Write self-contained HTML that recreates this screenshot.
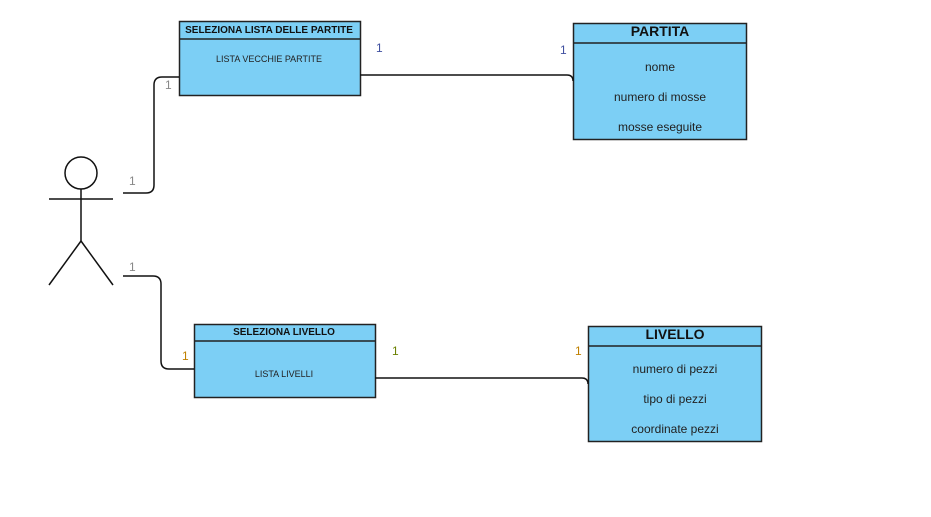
<!DOCTYPE html>
<html><head><meta charset="utf-8"><style>
html,body{margin:0;padding:0;background:#fff;}
svg{display:block;font-family:"Liberation Sans",sans-serif;}
</style></head><body>
<svg width="931" height="517" viewBox="0 0 931 517" xmlns="http://www.w3.org/2000/svg">
<g fill="#7ccff5" stroke="#222" stroke-width="1.5">
<rect x="179.5" y="21.5" width="181" height="74"/>
<line x1="179.5" y1="39" x2="360.5" y2="39"/>
<rect x="573.5" y="23.5" width="173" height="116"/>
<line x1="573.5" y1="43" x2="746.5" y2="43"/>
<rect x="194.5" y="324.5" width="181" height="73"/>
<line x1="194.5" y1="341" x2="375.5" y2="341"/>
<rect x="588.5" y="326.5" width="173" height="115"/>
<line x1="588.5" y1="346" x2="761.5" y2="346"/>
</g>
<g fill="none" stroke="#111" stroke-width="1.5">
<circle cx="81" cy="173" r="16" fill="#fff"/>
<line x1="81" y1="189" x2="81" y2="241"/>
<line x1="49" y1="199" x2="113" y2="199"/>
<line x1="81" y1="241" x2="49" y2="285"/>
<line x1="81" y1="241" x2="113" y2="285"/>
<path d="M123 193 H146 Q154 193 154 185 V85 Q154 77 162 77 H179"/>
<path d="M123 276 H153 Q161 276 161 284 V361 Q161 369 169 369 H194"/>
<path d="M360 75 H567 Q573 75 573 81"/>
<path d="M375 378 H582 Q588 378 588 384"/>
</g>
<g font-size="10" font-weight="bold" fill="#111" text-anchor="middle">
<text x="269" y="33">SELEZIONA LISTA DELLE PARTITE</text>
<text x="284" y="335">SELEZIONA LIVELLO</text>
</g>
<g font-size="14" font-weight="bold" fill="#111" text-anchor="middle">
<text x="660" y="36">PARTITA</text>
<text x="675" y="339">LIVELLO</text>
</g>
<g font-size="9" fill="#222" text-anchor="middle">
<text x="269" y="62">LISTA VECCHIE PARTITE</text>
<text x="284" y="377">LISTA LIVELLI</text>
</g>
<g font-size="12" fill="#222" text-anchor="middle">
<text x="660" y="71">nome</text>
<text x="660" y="101">numero di mosse</text>
<text x="660" y="131">mosse eseguite</text>
<text x="675" y="373">numero di pezzi</text>
<text x="675" y="403">tipo di pezzi</text>
<text x="675" y="433">coordinate pezzi</text>
</g>
<g font-size="12">
<text x="129" y="185" fill="#888">1</text>
<text x="165" y="89" fill="#888">1</text>
<text x="129" y="271" fill="#888">1</text>
<text x="182" y="360" fill="#c08000">1</text>
<text x="376" y="52" fill="#4050a0">1</text>
<text x="560" y="54" fill="#4050a0">1</text>
<text x="392" y="355" fill="#6a8000">1</text>
<text x="575" y="355" fill="#c08000">1</text>
</g>
</svg>
</body></html>
